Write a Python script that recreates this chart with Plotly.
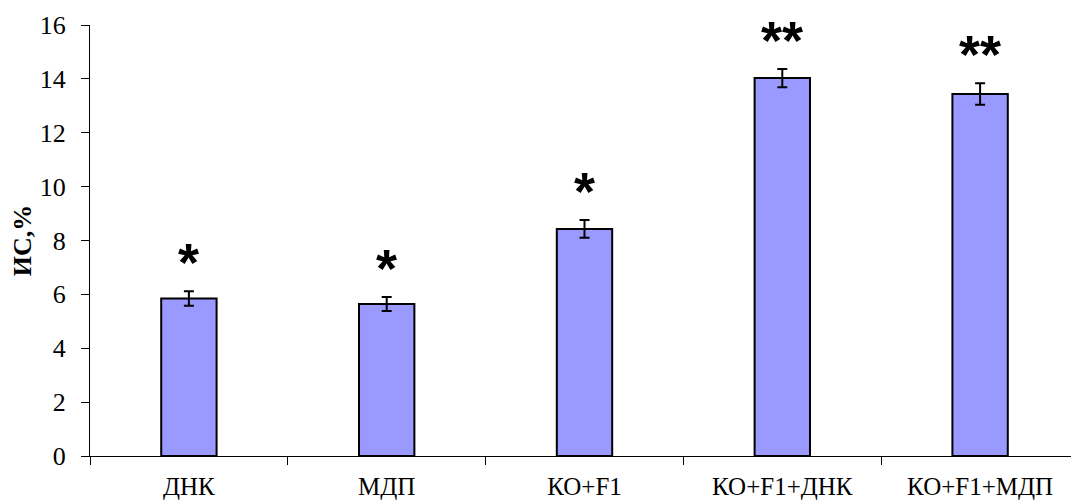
import plotly.graph_objects as go

categories = ["ДНК", "МДП", "КО+F1", "КО+F1+ДНК", "КО+F1+МДП"]
values = [5.85, 5.64, 8.43, 14.03, 13.44]
errors = [0.27, 0.26, 0.33, 0.34, 0.40]
marks = ["*", "*", "*", "**", "**"]
y_ticks = [0, 2, 4, 6, 8, 10, 12, 14, 16]

SERIF = "Liberation Serif, Times New Roman, serif"

fig = go.Figure()
fig.add_trace(go.Bar(
    x=categories, y=values,
    marker=dict(color="#9999FF", line=dict(color="black", width=2)),
    width=0.28,
    error_y=dict(type="data", array=errors, visible=True, color="black", thickness=2, width=5),
))

for c, v, e, m in zip(categories, values, errors, marks):
    fig.add_annotation(x=c, y=v + e, text="<b>" + m + "</b>", showarrow=False, yanchor="middle", yshift=29,
                       font=dict(family="Liberation Sans", size=54, color="black"))

fig.update_layout(
    width=1071, height=494,
    margin=dict(l=82, r=0, t=17, b=46),
    plot_bgcolor="white", paper_bgcolor="white",
    showlegend=False,
    font=dict(family=SERIF, size=24, color="black"),
)
fig.update_xaxes(
    showline=True, linecolor="black", linewidth=1, automargin=False,
    ticks="outside", tickson="boundaries", ticklen=8, tickcolor="black",
    ticklabelstandoff=8,
    tickfont=dict(family=SERIF, size=25), showgrid=False,
)
fig.update_yaxes(
    range=[0, 16], tickvals=y_ticks, showline=True, linecolor="black", linewidth=1,
    automargin=False,
    ticks="outside", ticklen=8, tickcolor="black", showgrid=False, zeroline=False,
    ticklabelstandoff=10,
    tickfont=dict(family=SERIF, size=26),
    title=dict(text="<b>ИС,%</b>", font=dict(family=SERIF, size=26), standoff=6),
)

fig.write_html("out.html")
